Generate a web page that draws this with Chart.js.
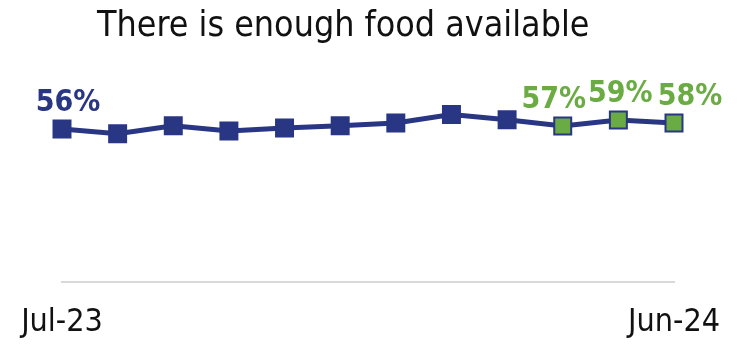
<!DOCTYPE html>
<html>
<head>
<meta charset="utf-8">
<script src="https://cdn.jsdelivr.net/npm/chart.js@4/dist/chart.umd.min.js"></script>
<style>
  html, body { margin: 0; padding: 0; background: #fff; }
  #wrap { position: relative; width: 743px; height: 344px; }
  #title {
    position: absolute; left: 97px; top: 3px;
    font-family: "Liberation Sans Narrow", "DejaVu Sans Condensed", sans-serif;
    font-size: 35.5px; color: #111; white-space: nowrap;
  }
</style>
</head>
<body>
<div id="wrap">
  <canvas id="lineChart" width="743" height="344"></canvas>
  <div id="title">There is enough food available</div>
</div>
<script>
var months = ["Jul-23", "Aug-23", "Sep-23", "Oct-23", "Nov-23", "Dec-23", "Jan-24", "Feb-24", "Mar-24", "Apr-24", "May-24", "Jun-24"];
var enoughFood = [56, 54.4, 57.1, 55.3, 56.3, 57.1, 58, 60.8, 59.1, 57, 59, 58];
var labelled = [0, 9, 10, 11];   // points that get a % label
var recent = [9, 10, 11];        // last quarter, shown in green

var navy = "#283684";
var green = "#6aac43";
var narrow = "'Liberation Sans Narrow', 'DejaVu Sans Condensed', sans-serif";

function pointColor(ctx) {
  return recent.indexOf(ctx.dataIndex) >= 0 ? green : navy;
}

// simple value labels above chosen points
var pointLabels = {
  id: 'pointLabels',
  afterDatasetsDraw: function (chart, args, opts) {
    var ctx = chart.ctx;
    var meta = chart.getDatasetMeta(0);
    ctx.save();
    ctx.font = "bold 30px " + narrow;
    ctx.textAlign = "center";
    ctx.textBaseline = "alphabetic";
    labelled.forEach(function (i) {
      var pt = meta.data[i];
      var dx = opts.shift[i] || 0;
      ctx.fillStyle = recent.indexOf(i) >= 0 ? green : navy;
      ctx.fillText(Math.round(enoughFood[i]) + "%", pt.x + dx, pt.y - 18);
    });
    ctx.restore();
  }
};

var ctxL = document.getElementById("lineChart").getContext('2d');
var myLineChart = new Chart(ctxL, {
  type: 'line',
  data: {
    labels: months,
    datasets: [{
      label: "There is enough food available",
      data: enoughFood,
      borderColor: navy,
      borderWidth: 5,
      pointStyle: 'rect',
      pointRadius: 12,
      pointHoverRadius: 12,
      pointBackgroundColor: pointColor,
      pointBorderColor: navy,
      pointBorderWidth: 2,
      tension: 0
    }]
  },
  options: {
    responsive: false,
    animation: false,
    layout: { padding: { top: 57, left: 62, right: 69, bottom: 0 } },
    plugins: {
      legend: { display: false },
      tooltip: { enabled: false },
      pointLabels: { shift: { 0: 6, 9: -9, 10: 2, 11: 16 } }
    },
    scales: {
      x: {
        offset: false,
        grid: { display: false, drawTicks: false },
        border: { display: true, color: "#d9d9d9", width: 2 },
        afterFit: function (scale) { scale.height = 62; },
        ticks: {
          autoSkip: false,
          maxRotation: 0,
          padding: 21,
          color: "#111",
          font: { family: narrow, size: 32 },
          callback: function (val, i) {
            return (i === 0 || i === months.length - 1) ? months[i] : "";
          }
        }
      },
      y: {
        display: false,
        min: 5,
        max: 80
      }
    }
  },
  plugins: [pointLabels]
});
</script>
</body>
</html>
